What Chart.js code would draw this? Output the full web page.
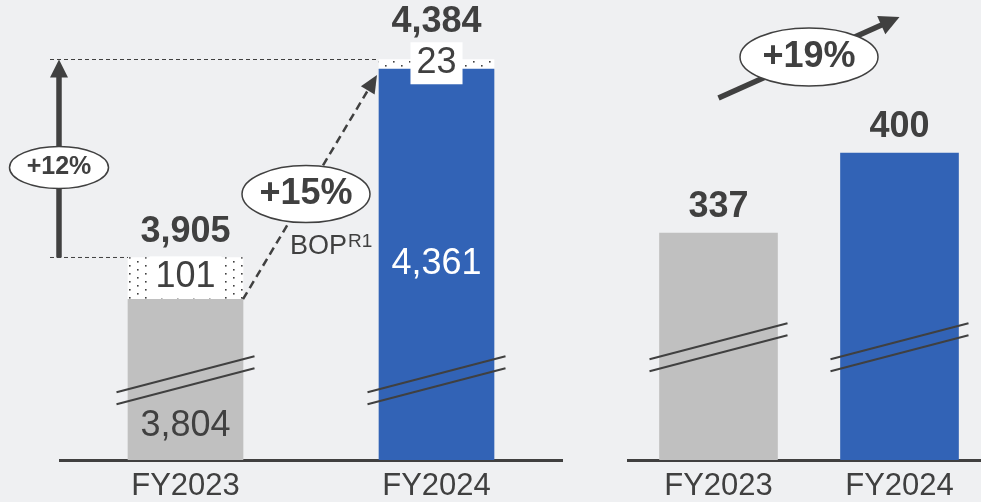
<!DOCTYPE html>
<html>
<head>
<meta charset="utf-8">
<script src="https://cdn.jsdelivr.net/npm/chart.js@4.4.0/dist/chart.umd.min.js"></script>
<style>
    html, body { margin: 0; padding: 0; width: 981px; height: 502px; overflow: hidden; background: #eff0f2; }
    #leftChart { position: absolute; left: 0; top: 0; }
    #rightChart { position: absolute; left: 600px; top: 0; }
</style>
</head>
<body>
<canvas id="leftChart" width="600" height="513"></canvas>
<canvas id="rightChart" width="390" height="513"></canvas>
<script>
const categories = ['FY2023', 'FY2024'];
const revenueBase = [3804, 4361];
const revenueExtra = [101, 23];
const profitValues = [337, 400];
const revenueGrowth = '+12%';
const bopGrowth = '+15%';
const profitGrowth = '+19%';

const TEXT = '#404040';
const GRAY = '#c0c0c0';
const BLUE = '#3263b6';
const FONT = '"Liberation Sans", Arial, sans-serif';

const fmt = v => v.toLocaleString('en-US');

// white fill with sparse staggered dots
function makeDots(canvas) {
    const tile = document.createElement('canvas');
    tile.width = 16;
    tile.height = 8;
    const g = tile.getContext('2d');
    g.fillStyle = '#fff';
    g.fillRect(0, 0, 16, 8);
    g.fillStyle = TEXT;
    g.fillRect(1, 1, 1.6, 1.6);
    g.fillRect(9, 5, 1.6, 1.6);
    return canvas.getContext('2d').createPattern(tile, 'repeat');
}

function text(ctx, str, x, y, size, bold, color, align) {
    ctx.save();
    ctx.font = (bold ? 'bold ' : '') + size + 'px ' + FONT;
    ctx.fillStyle = color;
    ctx.textAlign = align || 'center';
    ctx.textBaseline = 'middle';
    ctx.fillText(str, x, y);
    ctx.restore();
}

function bubble(ctx, x, y, rx, ry, str, size) {
    ctx.save();
    ctx.beginPath();
    ctx.ellipse(x, y, rx, ry, 0, 0, Math.PI * 2);
    ctx.fillStyle = '#fff';
    ctx.fill();
    ctx.lineWidth = 1.5;
    ctx.strokeStyle = TEXT;
    ctx.stroke();
    ctx.restore();
    text(ctx, str, x, y, size, true, TEXT);
}

function arrow(ctx, x1, y1, x2, y2, width, dash, headLen, headHalf) {
    const a = Math.atan2(y2 - y1, x2 - x1);
    const ex = x2 - Math.cos(a) * headLen * 0.8;
    const ey = y2 - Math.sin(a) * headLen * 0.8;
    ctx.save();
    ctx.strokeStyle = TEXT;
    ctx.fillStyle = TEXT;
    ctx.lineWidth = width;
    ctx.setLineDash(dash);
    ctx.beginPath();
    ctx.moveTo(x1, y1);
    ctx.lineTo(ex, ey);
    ctx.stroke();
    ctx.setLineDash([]);
    const bx = x2 - Math.cos(a) * headLen;
    const by = y2 - Math.sin(a) * headLen;
    ctx.beginPath();
    ctx.moveTo(x2, y2);
    ctx.lineTo(bx + Math.sin(a) * headHalf, by - Math.cos(a) * headHalf);
    ctx.lineTo(bx - Math.sin(a) * headHalf, by + Math.cos(a) * headHalf);
    ctx.closePath();
    ctx.fill();
    ctx.restore();
}

function dashedLine(ctx, x1, y1, x2, y2) {
    ctx.save();
    ctx.strokeStyle = TEXT;
    ctx.lineWidth = 1;
    ctx.setLineDash([4, 3]);
    ctx.beginPath();
    ctx.moveTo(x1, y1);
    ctx.lineTo(x2, y2);
    ctx.stroke();
    ctx.restore();
}

// axis break marks drawn across a bar
function breakMarks(ctx, x, y) {
    ctx.save();
    ctx.strokeStyle = TEXT;
    ctx.lineWidth = 2;
    [-6, 6].forEach(off => {
        ctx.beginPath();
        ctx.moveTo(x - 69, y + off + 18);
        ctx.lineTo(x + 69, y + off - 18);
        ctx.stroke();
    });
    ctx.restore();
}

const leftNotes = {
    id: 'leftNotes',
    afterDatasetsDraw(chart) {
        const ctx = chart.ctx;
        const yScale = chart.scales.y;
        const bottom = chart.chartArea.bottom;
        const base = chart.getDatasetMeta(0).data;
        const extra = chart.getDatasetMeta(1).data;
        const yb = yScale.getPixelForValue(3608);

        categories.forEach((c, i) => {
            const bar = base[i];
            breakMarks(ctx, bar.x, yb);
            const mid = (bar.y + bottom) / 2;
            const ly = Math.abs(mid - yb) < 40 ? (yb + 12 + bottom) / 2 : mid;
            text(ctx, fmt(revenueBase[i]), bar.x, ly, 36, false, i ? '#fff' : TEXT);

            const seg = extra[i];
            const ey = (seg.y + seg.base) / 2 - 1;
            ctx.font = '36px ' + FONT;
            const w = ctx.measureText(fmt(revenueExtra[i])).width + 12;
            ctx.fillStyle = '#fff';
            ctx.fillRect(bar.x - w / 2, ey - 21, w, 42);
            text(ctx, fmt(revenueExtra[i]), bar.x, ey, 36, false, TEXT);

            const boxTop = ey - 21;
            const ty = boxTop < seg.y - 2 ? boxTop - 20 : seg.y - 25;
            text(ctx, fmt(revenueBase[i] + revenueExtra[i]), bar.x, ty, 36, true, TEXT);
        });

        // total growth guides
        const t0 = extra[0].y;
        const t1 = extra[1].y;
        dashedLine(ctx, 50, t0, base[0].x - base[0].width / 2, t0);
        dashedLine(ctx, 50, t1, base[1].x - base[1].width / 2, t1);
        arrow(ctx, 59, t0, 59, t1, 5.5, [], 18, 9);
        bubble(ctx, 59, (t0 + t1) / 2 + 9, 49.5, 21, revenueGrowth, 25);

        // BOP growth
        const sx = base[0].x + base[0].width / 2;
        const sy = base[0].y;
        const tx = base[1].x - base[1].width / 2 - 2;
        const ty = base[1].y + 6;
        arrow(ctx, sx, sy, tx, ty, 2.5, [8, 5], 18, 8);
        const mx = (sx + tx) / 2 - 4;
        const my = (sy + ty) / 2 + 7;
        bubble(ctx, mx, my, 64, 28.5, bopGrowth, 36);
        text(ctx, 'BOP', mx - 16, my + 52, 27, false, TEXT, 'left');
        ctx.font = '27px ' + FONT;
        const bw = ctx.measureText('BOP').width;
        text(ctx, 'R1', mx - 16 + bw + 1, my + 48, 19, false, TEXT, 'left');
    }
};

const rightNotes = {
    id: 'rightNotes',
    afterDatasetsDraw(chart) {
        const ctx = chart.ctx;
        const yScale = chart.scales.y;
        const bars = chart.getDatasetMeta(0).data;
        const yb = yScale.getPixelForValue(247);
        bars.forEach((bar, i) => {
            breakMarks(ctx, bar.x, yb);
            text(ctx, fmt(profitValues[i]), bar.x, bar.y - 26, 36, true, TEXT);
        });
        arrow(ctx, bars[0].x, 98, bars[1].x, 17, 5.5, [], 20, 10);
        bubble(ctx, (bars[0].x + bars[1].x) / 2, 57, 69, 29, profitGrowth, 36);
    }
};

function xAxis() {
    return {
        stacked: true,
        grid: { display: false, drawTicks: false },
        border: { display: true, color: TEXT, width: 3 },
        ticks: { color: TEXT, font: { family: FONT, size: 31, lineHeight: 1 }, padding: 11 }
    };
}

const leftCanvas = document.getElementById('leftChart');
new Chart(leftCanvas, {
    type: 'bar',
    data: {
        labels: categories,
        datasets: [
            { data: revenueBase, backgroundColor: [GRAY, BLUE], barThickness: 115 },
            { data: revenueExtra, backgroundColor: makeDots(leftCanvas), barThickness: 115 }
        ]
    },
    options: {
        responsive: false,
        animation: false,
        devicePixelRatio: 1,
        layout: { padding: { left: 60, right: 38, top: 0, bottom: 0 } },
        plugins: { legend: { display: false }, tooltip: { enabled: false } },
        scales: {
            x: xAxis(),
            y: { stacked: true, display: false, min: 3415, max: 4528 }
        }
    },
    plugins: [leftNotes]
});

new Chart(document.getElementById('rightChart'), {
    type: 'bar',
    data: {
        labels: categories,
        datasets: [
            { data: profitValues, backgroundColor: [GRAY, BLUE], barThickness: 118 }
        ]
    },
    options: {
        responsive: false,
        animation: false,
        devicePixelRatio: 1,
        layout: { padding: { left: 28, right: 0, top: 0, bottom: 0 } },
        plugins: { legend: { display: false }, tooltip: { enabled: false } },
        scales: {
            x: xAxis(),
            y: { display: false, min: 158.2, max: 520.5 }
        }
    },
    plugins: [rightNotes]
});
</script>
</body>
</html>
